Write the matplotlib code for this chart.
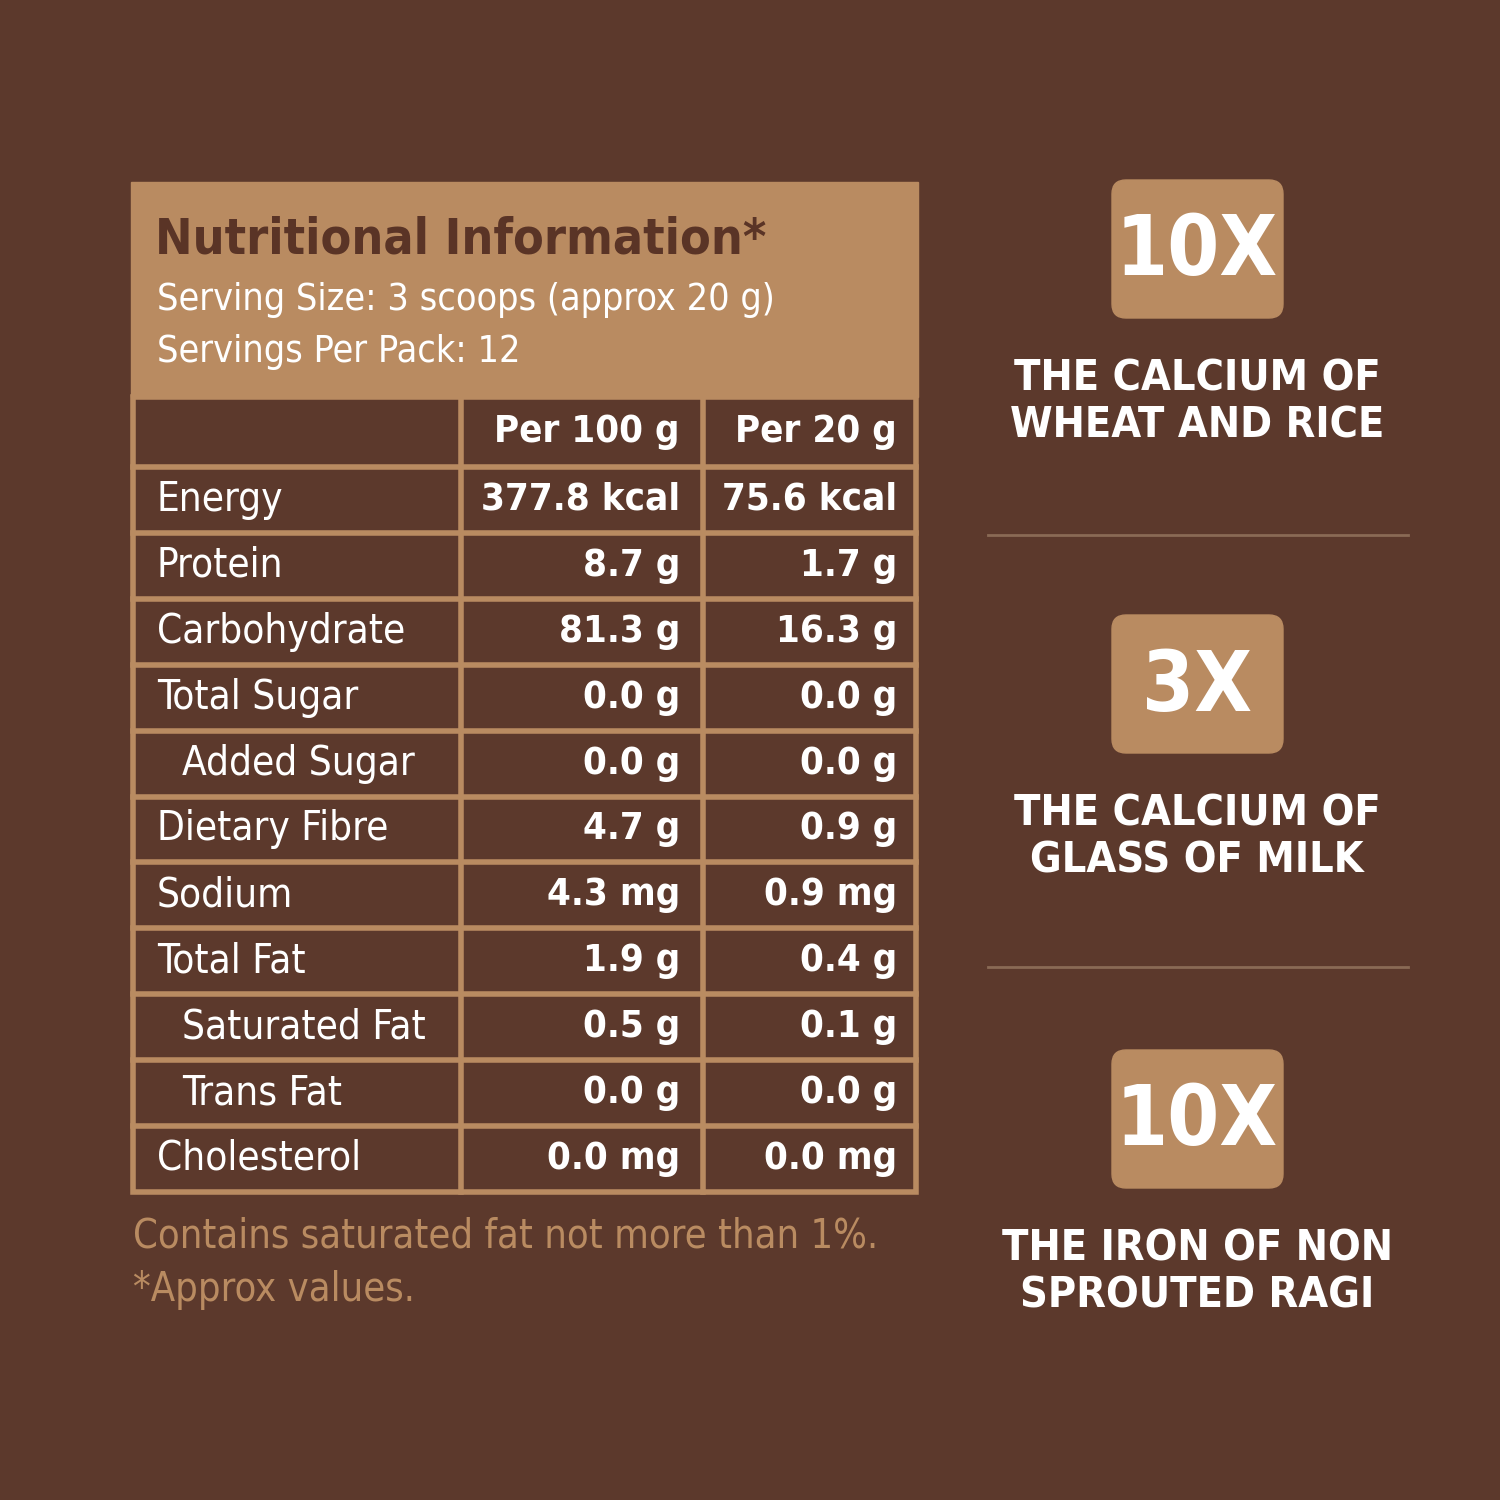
import matplotlib.pyplot as plt
from matplotlib.patches import Rectangle, FancyBboxPatch

bg = '#5c392c'
tan = '#b98b61'
title_col = '#5a3426'

nutrients = ['Energy', 'Protein', 'Carbohydrate', 'Total Sugar', 'Added Sugar', 'Dietary Fibre',
             'Sodium', 'Total Fat', 'Saturated Fat', 'Trans Fat', 'Cholesterol']
indented = ['Added Sugar', 'Saturated Fat', 'Trans Fat']
per_100g = ['377.8 kcal', '8.7 g', '81.3 g', '0.0 g', '0.0 g', '4.7 g', '4.3 mg', '1.9 g', '0.5 g', '0.0 g', '0.0 mg']
per_20g = ['75.6 kcal', '1.7 g', '16.3 g', '0.0 g', '0.0 g', '0.9 g', '0.9 mg', '0.4 g', '0.1 g', '0.0 g', '0.0 mg']
badges = ['10X', '3X', '10X']
claims = ['THE CALCIUM OF\nWHEAT AND RICE', 'THE CALCIUM OF\nGLASS OF MILK', 'THE IRON OF NON\nSPROUTED RAGI']

kw = dict(family='DejaVu Sans', fontstretch='condensed')
fig = plt.figure(figsize=(15, 15), dpi=100, facecolor=bg)
ax = fig.add_axes([0, 0, 1, 1])
ax.set_xlim(0, 1500)
ax.set_ylim(1500, 0)
ax.axis('off')

# header block
ax.add_patch(Rectangle((131, 182), 787, 215, color=tan, zorder=1))
ax.text(155, 240, 'Nutritional Information*', weight='bold', fontsize=36, color=title_col, va='center', **kw)
ax.text(157, 300, 'Serving Size: 3 scoops (approx 20 g)', fontsize=27, color='white', va='center', **kw)
ax.text(157, 352, 'Servings Per Pack: 12', fontsize=27, color='white', va='center', **kw)

# table grid
top, row_h = 397, 65.9
bottom = 467 + row_h * len(nutrients)
lw = 4
ax.add_patch(Rectangle((133, top), 783, bottom - top, fill=False, ec=tan, lw=lw))
for x in (461, 703):
    ax.plot([x, x], [top, bottom], color=tan, lw=lw)
ax.plot([133, 916], [467, 467], color=tan, lw=lw)
for i in range(1, len(nutrients)):
    y = 467 + i * row_h
    ax.plot([133, 916], [y, y], color=tan, lw=lw)

fs = 29
fv = 27.5
ax.text(680, 432, 'Per 100 g', weight='bold', fontsize=fv, color='white', ha='right', va='center', **kw)
ax.text(897, 432, 'Per 20 g', weight='bold', fontsize=fv, color='white', ha='right', va='center', **kw)
for i, name in enumerate(nutrients):
    yc = 467 + (i + 0.5) * row_h
    x0 = 182 if name in indented else 157
    ax.text(x0, yc, name, fontsize=fs, color='white', va='center', **kw)
    ax.text(680, yc, per_100g[i], weight='bold', fontsize=fv, color='white', ha='right', va='center', **kw)
    ax.text(897, yc, per_20g[i], weight='bold', fontsize=fv, color='white', ha='right', va='center', **kw)

ax.text(133, 1236, 'Contains saturated fat not more than 1%.', fontsize=28.5, color=tan, va='center', **kw)
ax.text(133, 1290, '*Approx values.', fontsize=28.5, color=tan, va='center', **kw)

# right side claims
for k, (b, c) in enumerate(zip(badges, claims)):
    y0 = 180 + k * 435
    ax.add_patch(FancyBboxPatch((1120, y0 + 8), 155, 122, boxstyle='round,pad=8,rounding_size=14',
                                color=tan, zorder=2))
    ax.text(1197, y0 + 72, b, weight='bold', fontsize=60, color='white',
            ha='center', va='center', zorder=3, **kw)
    ax.text(1197, y0 + 222, c, weight='bold', fontsize=31, color='white',
            ha='center', va='center', linespacing=1.15, zorder=3, **kw)
for y in (535, 967):
    ax.plot([988, 1408], [y, y], color='#8a6a55', lw=2)

fig.savefig('out.png', dpi=100, facecolor=bg)
